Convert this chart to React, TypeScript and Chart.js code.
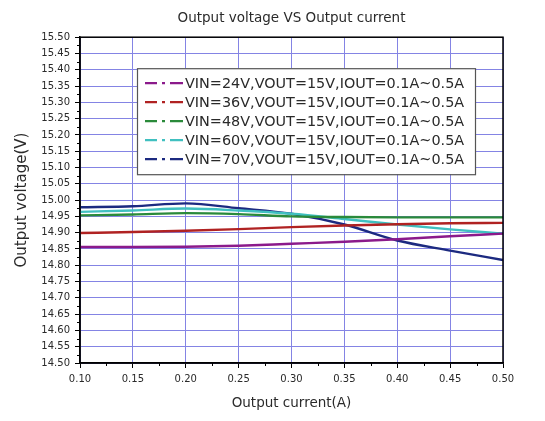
import React, { useEffect, useRef } from "react";
import { Chart, registerables } from "chart.js";

Chart.register(...registerables);

const chartTitle = "Output voltage VS Output current";
const xTitle = "Output current(A)";
const yTitle = "Output voltage(V)";

const currents = [0.1, 0.15, 0.2, 0.25, 0.3, 0.35, 0.4, 0.45, 0.5];

const seriesLabels = [
  "VIN=24V,VOUT=15V,IOUT=0.1A~0.5A",
  "VIN=36V,VOUT=15V,IOUT=0.1A~0.5A",
  "VIN=48V,VOUT=15V,IOUT=0.1A~0.5A",
  "VIN=60V,VOUT=15V,IOUT=0.1A~0.5A",
  "VIN=70V,VOUT=15V,IOUT=0.1A~0.5A",
];

const vin24 = [14.856, 14.856, 14.857, 14.86, 14.866, 14.872, 14.88, 14.889, 14.897];
const vin36 = [14.899, 14.902, 14.906, 14.911, 14.917, 14.922, 14.926, 14.929, 14.93];
const vin48 = [14.953, 14.956, 14.96, 14.957, 14.95, 14.948, 14.947, 14.947, 14.947];
const vin60 = [14.964, 14.968, 14.974, 14.968, 14.958, 14.942, 14.925, 14.91, 14.897];
const vin70 = [14.978, 14.981, 14.99, 14.975, 14.958, 14.925, 14.876, 14.845, 14.816];

const seriesValues = [vin24, vin36, vin48, vin60, vin70];
const seriesColors = ["#8b1a8b", "#b02222", "#2a8a3a", "#40c0c0", "#1c2a80"];

const FONT = "'DejaVu Sans', sans-serif";
const TEXT = "#2a2a2a";
const GRID = "#8484e4";

const framePlugin = {
  id: "frameAndMinor",
  afterDatasetsDraw(chart: any) {
    const { ctx, chartArea } = chart;
    const xs = chart.scales.x;
    const ys = chart.scales.y;
    ctx.save();
    ctx.strokeStyle = "#000";
    ctx.lineWidth = 1;
    ctx.beginPath();
    for (let v = 0.125; v < 0.5; v += 0.05) {
      const px = Math.round(xs.getPixelForValue(v)) + 0.5;
      ctx.moveTo(px, chartArea.bottom);
      ctx.lineTo(px, chartArea.bottom + 3);
    }
    for (let v = 14.525; v < 15.5; v += 0.05) {
      const py = Math.round(ys.getPixelForValue(v)) + 0.5;
      ctx.moveTo(chartArea.left, py);
      ctx.lineTo(chartArea.left - 3, py);
    }
    ctx.stroke();
    ctx.lineWidth = 1.5;
    ctx.strokeRect(
      chartArea.left,
      chartArea.top,
      chartArea.right - chartArea.left,
      chartArea.bottom - chartArea.top
    );
    ctx.restore();
  },
  afterDraw(chart: any) {
    const { ctx, chartArea } = chart;
    const left = chartArea.left + 57;
    const top = chartArea.top + 31;
    const w = 338;
    const h = 106;
    ctx.save();
    ctx.fillStyle = "#ffffff";
    ctx.fillRect(left, top, w, h);
    ctx.strokeStyle = "#555";
    ctx.lineWidth = 1.2;
    ctx.strokeRect(left + 0.5, top + 0.5, w, h);
    chart.data.datasets.forEach((ds: any, i: number) => {
      const y = top + 15 + i * 19;
      ctx.strokeStyle = ds.borderColor;
      ctx.lineWidth = 2.2;
      ctx.setLineDash([12, 5, 3, 5, 13]);
      ctx.beginPath();
      ctx.moveTo(left + 8, y);
      ctx.lineTo(left + 46, y);
      ctx.stroke();
      ctx.setLineDash([]);
      ctx.fillStyle = TEXT;
      ctx.font = `14.4px ${FONT}`;
      ctx.textBaseline = "middle";
      ctx.textAlign = "left";
      ctx.fillText(ds.label, left + 48, y + 1);
    });
    ctx.restore();
  },
};

export default function App() {
  const ref = useRef<HTMLCanvasElement>(null);
  useEffect(() => {
    document.body.style.margin = "0";
    const chart = new Chart(ref.current as HTMLCanvasElement, {
      type: "line",
      data: {
        datasets: seriesLabels.map((label, i) => ({
          label,
          data: currents.map((x, j) => ({ x, y: seriesValues[i][j] })),
          borderColor: seriesColors[i],
          backgroundColor: seriesColors[i],
          borderWidth: 2.4,
          pointRadius: 0,
          tension: 0.35,
          cubicInterpolationMode: "monotone" as const,
        })),
      },
      options: {
        animation: false,
        responsive: false,
        devicePixelRatio: 1,
        layout: { padding: { left: 0, right: 42, top: 0, bottom: 0 } },
        plugins: {
          legend: { display: false },
          tooltip: { enabled: false },
          title: {
            display: true,
            text: chartTitle,
            fullSize: false,
            color: TEXT,
            font: { family: FONT, size: 13.5, weight: "normal" },
            padding: { top: 10, bottom: 11 },
          },
        },
        scales: {
          x: {
            type: "linear",
            min: 0.1,
            max: 0.5,
            afterFit(scale: any) {
              scale.height = 58;
            },
            ticks: {
              stepSize: 0.05,
              autoSkip: false,
              maxRotation: 0,
              padding: 5,
              color: TEXT,
              font: { family: FONT, size: 10 },
              callback: (v: any) => Number(v).toFixed(2),
            },
            grid: { color: GRID, tickColor: "#000", tickLength: 5, lineWidth: 1 },
            border: { color: "#000", width: 1.5 },
            title: {
              display: true,
              text: xTitle,
              color: TEXT,
              font: { family: FONT, size: 13.5 },
              padding: { top: 4, bottom: 9 },
            },
          },
          y: {
            type: "linear",
            min: 14.5,
            max: 15.5,
            afterFit(scale: any) {
              scale.width = 80;
            },
            ticks: {
              stepSize: 0.05,
              autoSkip: false,
              padding: 5,
              color: TEXT,
              font: { family: FONT, size: 10 },
              callback: (v: any) => Number(v).toFixed(2),
            },
            grid: { color: GRID, tickColor: "#000", tickLength: 5, lineWidth: 1 },
            border: { color: "#000", width: 1.5 },
            title: {
              display: true,
              text: yTitle,
              color: TEXT,
              font: { family: FONT, size: 15 },
              padding: { top: 13, bottom: 4 },
            },
          },
        },
      },
      plugins: [framePlugin],
    } as any);
    return () => chart.destroy();
  }, []);
  return (
    <div style={{ width: 545, height: 421, background: "#fff" }}>
      <canvas ref={ref} width={545} height={421} />
    </div>
  );
}
